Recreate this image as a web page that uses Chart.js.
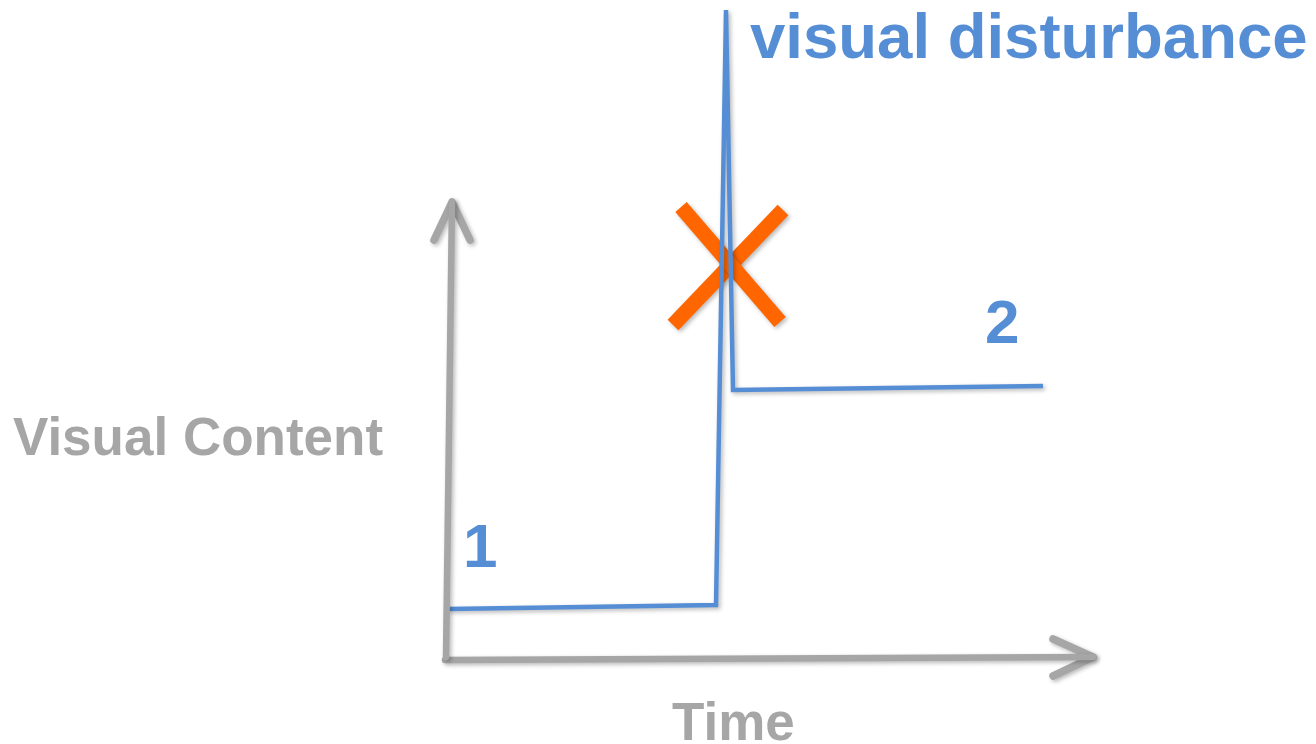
<!DOCTYPE html>
<html>
<head>
<meta charset="utf-8">
<script src="https://cdn.jsdelivr.net/npm/chart.js@4/dist/chart.umd.min.js"></script>
<style>
  body { margin: 0; background: #fff; }
  #wrap { width: 1316px; height: 744px; position: relative; }
</style>
</head>
<body>
<div id="wrap"><canvas id="diagram"></canvas></div>
<script>
// Data (time on x, visual content on y, origin at the axis corner)
const signal_time = [2, 270, 280, 287, 597];
const signal_content = [50, 54, 649, 269, 273];

const yaxis_time = [0, 6];
const yaxis_content = [2, 457];
const yhead_time = [-12, 6, 24];
const yhead_content = [419, 457, 419];

const xaxis_time = [-1, 647];
const xaxis_content = [-1, 2];
const xhead_time = [607, 647, 607];
const xhead_content = [20, 2, -17];

const cross_a_time = [235, 334];
const cross_a_content = [452, 337];
const cross_b_time = [337, 227];
const cross_b_content = [449, 334];

// Labels
const label_texts = ["visual disturbance", "Visual Content", "Time", "1", "2"];
const label_time = [304, -433, 226, 17, 539];
const label_content = [601, 204, -81, 92, 316];

const BLUE = "#558ed5";
const GRAY = "#a6a6a6";
const ORANGE = "#ff6600";
const label_styles = [
	{ color: BLUE, size: 63.5 },
	{ color: GRAY, size: 53 },
	{ color: GRAY, size: 53 },
	{ color: BLUE, size: 62 },
	{ color: BLUE, size: 62 }
];

function toPoints(xs, ys){
	return xs.map((x, i) => ({ x: x, y: ys[i] }));
}

function lineSet(xs, ys, color, width, cap){
	return {
		data: toPoints(xs, ys),
		showLine: true,
		borderColor: color,
		backgroundColor: color,
		borderWidth: width,
		borderCapStyle: cap,
		borderJoinStyle: cap == "round" ? "round" : "miter",
		pointRadius: 0,
		tension: 0
	};
}

// soft drop shadow under the strokes
const shadowPlugin = {
	id: "shadow",
	beforeDatasetsDraw(chart){
		const c = chart.ctx;
		c.save();
		c.shadowColor = "rgba(0,0,0,0.28)";
		c.shadowBlur = 4;
		c.shadowOffsetX = 2;
		c.shadowOffsetY = 2;
	},
	afterDatasetsDraw(chart){
		chart.ctx.restore();
	}
};

const labelPlugin = {
	id: "labels",
	afterDraw(chart){
		const c = chart.ctx;
		const xs = chart.scales.x, ys = chart.scales.y;
		c.save();
		c.textAlign = "left";
		c.textBaseline = "alphabetic";
		label_texts.forEach((t, i) => {
			c.font = "bold " + label_styles[i].size + "px 'Liberation Sans', Arial, sans-serif";
			c.fillStyle = label_styles[i].color;
			c.fillText(t, xs.getPixelForValue(label_time[i]), ys.getPixelForValue(label_content[i]));
		});
		c.restore();
	}
};

const ctx = document.getElementById("diagram").getContext("2d");
new Chart(ctx, {
	type: "scatter",
	data: {
		datasets: [
			lineSet(yaxis_time, yaxis_content, GRAY, 6.5, "round"),
			lineSet(yhead_time, yhead_content, GRAY, 7.5, "round"),
			lineSet(xaxis_time, xaxis_content, GRAY, 6.5, "round"),
			lineSet(xhead_time, xhead_content, GRAY, 7.5, "round"),
			lineSet(signal_time, signal_content, BLUE, 4.5, "butt"),
			lineSet(cross_a_time, cross_a_content, ORANGE, 15, "butt"),
			lineSet(cross_b_time, cross_b_content, ORANGE, 15, "butt")
		]
	},
	options: {
		responsive: true,
		maintainAspectRatio: false,
		animation: false,
		layout: { padding: 0 },
		scales: {
			x: { type: "linear", min: -446, max: 870, display: false },
			y: { type: "linear", min: -85, max: 659, display: false }
		},
		plugins: {
			legend: { display: false },
			tooltip: { enabled: false }
		}
	},
	plugins: [shadowPlugin, labelPlugin]
});
</script>
</body>
</html>
